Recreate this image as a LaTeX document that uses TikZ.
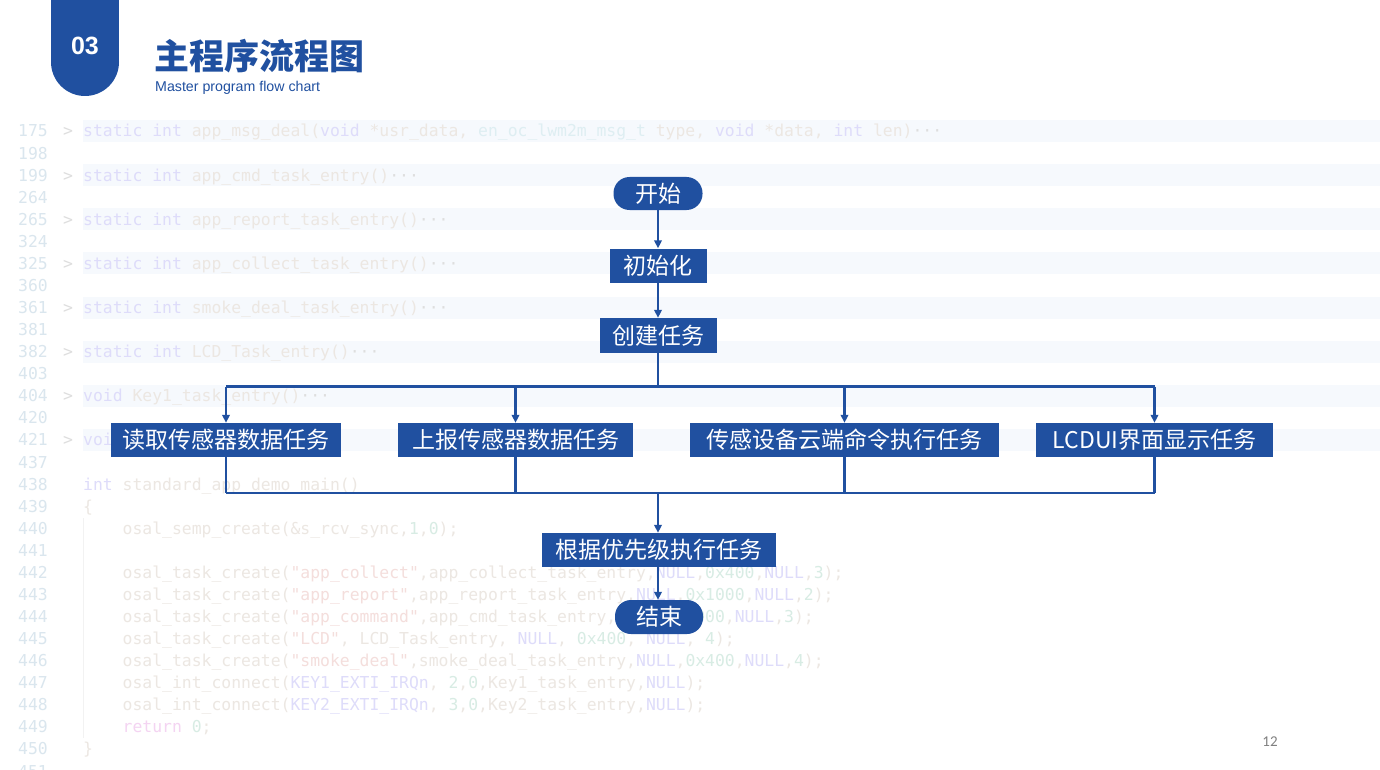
\documentclass[tikz,border=0pt]{standalone}
\usepackage{fontspec}
\setmainfont{Liberation Sans}
\newfontfamily\cjk{Noto Sans CJK SC}
\newfontfamily\codefont{DejaVu Sans Mono}
\newfontfamily\pagefont{Carlito}
\usetikzlibrary{arrows.meta}

\definecolor{mainblue}{RGB}{32,80,160}
\definecolor{cnum}{RGB}{218,230,238}
\definecolor{cgt}{RGB}{222,222,222}
\definecolor{ckw}{RGB}{222,220,250}
\definecolor{cid}{RGB}{236,231,226}
\definecolor{ctyp}{RGB}{222,238,242}
\definecolor{cstr}{RGB}{244,222,220}
\definecolor{cnl}{RGB}{216,236,228}
\definecolor{cret}{RGB}{244,212,242}
\definecolor{cband}{RGB}{246,249,253}
\definecolor{pagegray}{RGB}{128,128,128}

\tikzset{
  term/.style={rectangle,rounded corners=16pt,fill=mainblue,text=white,minimum height=33pt,inner sep=0pt,font=\cjk\fontsize{23}{25}\selectfont},
  proc/.style={rectangle,fill=mainblue,text=white,minimum height=34pt,inner sep=0pt,font=\cjk\fontsize{23}{25}\selectfont},
  flow/.style={draw=mainblue,line width=2.1pt,-{Triangle[length=8pt,width=7.5pt]}},
  busline/.style={draw=mainblue,line width=2.1pt},
  code/.style={anchor=base west,inner sep=0pt,text=cid,font=\codefont\fontsize{16.4}{18}\selectfont},
  lnum/.style={anchor=base east,inner sep=0pt,text=cnum,font=\codefont\fontsize{16.4}{18}\selectfont},
  fold/.style={anchor=base,inner sep=0pt,text=cgt,font=\codefont\fontsize{16.4}{18}\selectfont},
  band/.style={fill=cband},
  guide/.style={draw=black!5,line width=.8pt}
}
\newcommand{\kw}[1]{\textcolor{ckw}{#1}}
\newcommand{\typ}[1]{\textcolor{ctyp}{#1}}
\newcommand{\strg}[1]{\textcolor{cstr}{#1}}
\newcommand{\numl}[1]{\textcolor{cnl}{#1}}
\newcommand{\retk}[1]{\textcolor{cret}{#1}}
\newcommand{\more}{\textcolor{cgt}{···}}

\begin{document}
\begin{tikzpicture}[x=1pt,y=-1pt]
  \useasboundingbox[fill=white] (0,0) rectangle (1380,770);
  % faded code in the background
  \foreach \i in {0,2,...,14}{
    \fill[band] (83,131+22.07*\i-11) rectangle (1380,131+22.07*\i+11);
    \node[fold] (fd\i) at (68,137+22.07*\i) {>};
  }
  \foreach \n [count=\i from 0] in {175,198,199,264,265,324,325,360,361,381,382,403,404,420,421,437,438,439,440,441,442,443,444,445,446,447,448,449,450,451}
    \node[lnum] (ln\n) at (48,137+22.07*\i) {\n};
  \draw[guide] (83,518) -- (83,738);
  \node[code] (c175) at (83,137) {\kw{static int} app\_msg\_deal(\kw{void} *usr\_data, \typ{en\_oc\_lwm2m\_msg\_t} type, \kw{void} *data, \kw{int} len)\more};
  \node[code] (c199) at (83,181.14) {\kw{static int} app\_cmd\_task\_entry()\more};
  \node[code] (c265) at (83,225.28) {\kw{static int} app\_report\_task\_entry()\more};
  \node[code] (c325) at (83,269.42) {\kw{static int} app\_collect\_task\_entry()\more};
  \node[code] (c361) at (83,313.56) {\kw{static int} smoke\_deal\_task\_entry()\more};
  \node[code] (c382) at (83,357.7) {\kw{static int} LCD\_Task\_entry()\more};
  \node[code] (c404) at (83,401.84) {\kw{void} Key1\_task\_entry()\more};
  \node[code] (c421) at (83,445.98) {\kw{void} Key2\_task\_entry()\more};
  \node[code] (c438) at (83,490.12) {\kw{int} standard\_app\_demo\_main()};
  \node[code] (c439) at (83,512.19) {\{};
  \node[code] (c440) at (122.5,534.26) {osal\_semp\_create(\&s\_rcv\_sync,\numl{1},\numl{0});};
  \node[code] (c442) at (122.5,578.4) {osal\_task\_create(\strg{"app\_collect"},app\_collect\_task\_entry,\kw{NULL},\numl{0x400},\kw{NULL},\numl{3});};
  \node[code] (c443) at (122.5,600.47) {osal\_task\_create(\strg{"app\_report"},app\_report\_task\_entry,\kw{NULL},\numl{0x1000},\kw{NULL},\numl{2});};
  \node[code] (c444) at (122.5,622.54) {osal\_task\_create(\strg{"app\_command"},app\_cmd\_task\_entry,\kw{NULL},\numl{0x1000},\kw{NULL},\numl{3});};
  \node[code] (c445) at (122.5,644.61) {osal\_task\_create(\strg{"LCD"}, LCD\_Task\_entry, \kw{NULL}, \numl{0x400}, \kw{NULL}, \numl{4});};
  \node[code] (c446) at (122.5,666.68) {osal\_task\_create(\strg{"smoke\_deal"},smoke\_deal\_task\_entry,\kw{NULL},\numl{0x400},\kw{NULL},\numl{4});};
  \node[code] (c447) at (122.5,688.75) {osal\_int\_connect(\kw{KEY1\_EXTI\_IRQn}, \numl{2},\numl{0},Key1\_task\_entry,\kw{NULL});};
  \node[code] (c448) at (122.5,710.82) {osal\_int\_connect(\kw{KEY2\_EXTI\_IRQn}, \numl{3},\numl{0},Key2\_task\_entry,\kw{NULL});};
  \node[code] (c449) at (122.5,732.89) {\retk{return} \numl{0};};
  \node[code] (c450) at (83,754.96) {\}};

  % header
  \fill[mainblue] (51,0) rectangle (119,62);
  \fill[mainblue] (85,62) circle[radius=34];
  \node[text=white,font=\bfseries\fontsize{25}{27}\selectfont] (num) at (85,46) {03};
  \node[anchor=west,inner sep=0pt,text=mainblue,font=\cjk\bfseries\fontsize{35}{37}\selectfont] (title) at (154,56) {主程序流程图};
  \node[anchor=west,inner sep=0pt,text=mainblue,font=\fontsize{14.2}{16}\selectfont] (subtitle) at (155,88) {Master program flow chart};
  \node[text=pagegray,font=\pagefont\fontsize{15}{17}\selectfont] (page) at (1270,742) {12};

  % flow chart
  \node[term,minimum width=89pt] (start) at (658,193.5) {开始};
  \node[proc,minimum width=97pt] (init) at (658,265.5) {初始化};
  \node[proc,minimum width=117pt,minimum height=35pt] (create) at (658,335.5) {创建任务};
  \node[proc,minimum width=230pt] (read) at (226,440) {读取传感器数据任务};
  \node[proc,minimum width=235pt] (report) at (515.5,440) {上报传感器数据任务};
  \node[proc,minimum width=309pt] (cmd) at (844.5,440) {传感设备云端命令执行任务};
  \node[proc,minimum width=237pt] (lcd) at (1154.5,440) {LCDUI界面显示任务};
  \node[proc,minimum width=234pt] (prio) at (659,550) {根据优先级执行任务};
  \node[term,minimum width=88pt,minimum height=34pt] (stop) at (659,617) {结束};
  \coordinate (split) at (658,386.5);
  \coordinate (merge) at (658,493);

  \draw[flow] (start) -- (init);
  \draw[flow] (init) -- (create);
  \draw[busline] (create) -- (split);
  \draw[busline] (read |- split) -- (lcd |- split);
  \draw[busline] (read |- merge) -- (lcd |- merge);
  \foreach \t in {read,report,cmd,lcd}{
    \draw[flow] (\t |- split) -- (\t.north);
    \draw[busline] (\t.south) -- (\t |- merge);
  }
  \draw[flow] (merge) -- (merge |- prio.north);
  \draw[flow] (prio.south -| merge) -- (merge |- stop.north);
\end{tikzpicture}
\end{document}
